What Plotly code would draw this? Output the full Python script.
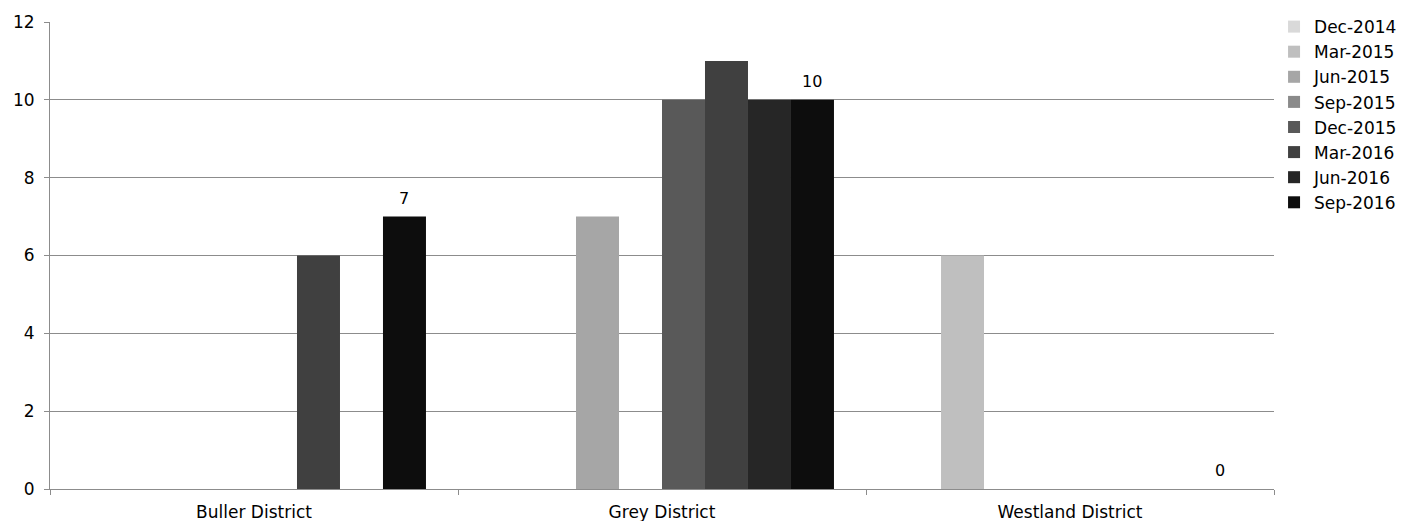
import plotly.graph_objects as go

categories = ["Buller District", "Grey District", "Westland District"]
series_names = ["Dec-2014", "Mar-2015", "Jun-2015", "Sep-2015",
                "Dec-2015", "Mar-2016", "Jun-2016", "Sep-2016"]
values = {
    "Dec-2014": [None, None, None],
    "Mar-2015": [None, None, 6],
    "Jun-2015": [None, 7, None],
    "Sep-2015": [None, None, None],
    "Dec-2015": [None, 10, None],
    "Mar-2016": [6, 11, None],
    "Jun-2016": [None, 10, None],
    "Sep-2016": [7, 10, 0],
}
colors = ["#d9d9d9", "#bfbfbf", "#a6a6a6", "#8a8a8a",
          "#595959", "#404040", "#262626", "#0d0d0d"]
labelled_series = "Sep-2016"
y_ticks = [0, 2, 4, 6, 8, 10, 12]

font_family = "DejaVu Sans, Verdana, sans-serif"
FS = 17
GRID = "#8c8c8c"

# layout geometry (page body has an 8px margin)
W, H = 1405, 521
ML, MR, MT, MB = 42, 139, 14, 40
BARGAP = 0.157
plot_w = W - ML - MR

fig = go.Figure()
for name, col in zip(series_names, colors):
    fig.add_trace(go.Bar(
        name=name, x=categories, y=values[name],
        marker=dict(color=col, line=dict(width=0)),
        hoverinfo="skip"))

# data labels for the last series, placed above each of its bars
n_series = len(series_names)
idx = series_names.index(labelled_series)
cat_w = plot_w / len(categories)
bar_w = cat_w * (1 - BARGAP) / n_series
xshift = (idx - (n_series - 1) / 2) * bar_w
for cat, v in zip(categories, values[labelled_series]):
    if v is None:
        continue
    fig.add_annotation(x=cat, y=v, xref="x", yref="y", text=str(v),
                       showarrow=False, xanchor="center", yanchor="bottom",
                       xshift=xshift, yshift=7,
                       font=dict(family=font_family, size=16, color="#000000"))

fig.update_layout(
    width=W, height=H,
    margin=dict(l=ML, r=MR, t=MT, b=MB),
    paper_bgcolor="white", plot_bgcolor="white",
    barmode="group", bargap=BARGAP, bargroupgap=0,
    font=dict(family=font_family, size=FS, color="#000000"),
    showlegend=True,
    legend=dict(x=0.9011, xanchor="left", y=0.998, yanchor="top",
                xref="container", yref="container",
                font=dict(family=font_family, size=FS, color="#000000"),
                traceorder="normal", itemwidth=30,
                bgcolor="rgba(0,0,0,0)"),
)
fig.update_xaxes(
    type="category", tickson="boundaries", ticks="outside", ticklen=5,
    tickcolor=GRID, showline=True, linecolor=GRID, linewidth=1,
    showgrid=False, tickfont=dict(size=FS), automargin=False,
    ticklabelstandoff=8,
)
fig.update_yaxes(
    range=[0, 12], tickvals=y_ticks, ticks="outside", ticklen=5,
    tickcolor=GRID, showline=True, linecolor=GRID, linewidth=1,
    showgrid=True, gridcolor=GRID, gridwidth=1, zeroline=False,
    tickfont=dict(size=FS), automargin=False, ticklabelstandoff=6,
)

fig.write_html("out.html")
